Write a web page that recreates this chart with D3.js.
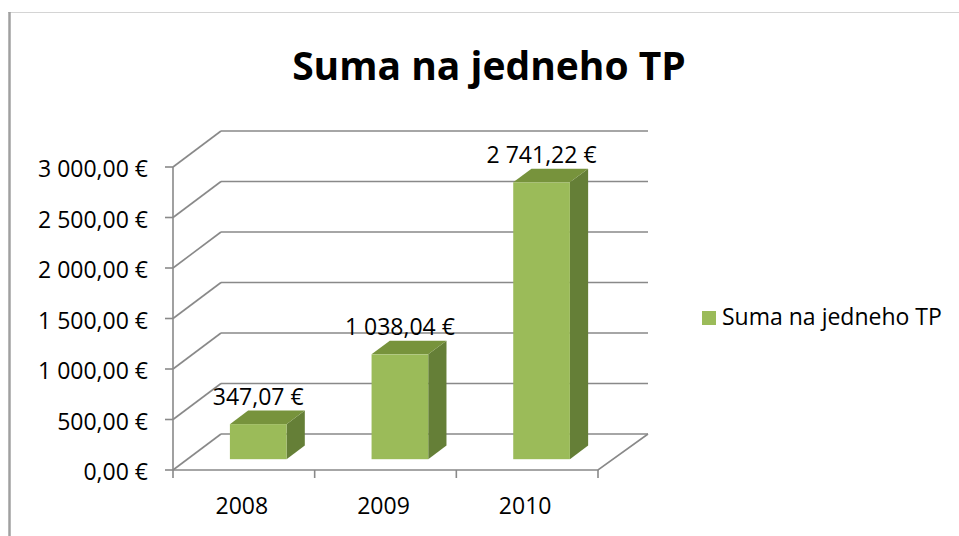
<!DOCTYPE html>
<html>
<head>
	<meta charset="UTF-8" />
	<title>Suma na jedneho TP</title>
	<script src="https://d3js.org/d3.v7.min.js"></script>
	<style>
		body { margin: 0; background: #fff; }
		text { font-family: "Open Sans", sans-serif; fill: #000; }
	</style>
</head>
<body>
	<svg id="chart" width="959" height="536"></svg>

	<script type="text/javascript">

	// data
	var years = ["2008", "2009", "2010"]
	var sums = [347.07, 1038.04, 2741.22]
	var yTicks = [0, 500, 1000, 1500, 2000, 2500, 3000]
	var seriesName = "Suma na jedneho TP"
	var chartTitle = "Suma na jedneho TP"

	// formatting like "1 038,04 €"
	var fmt = d3.formatLocale({decimal: ",", thousands: " ", grouping: [3], currency: ["", " €"]}).format("$,.2f")

	var svg = d3.select("#chart")

	// outer frame (only top + left visible)
	svg.append("line").attr("x1", 8).attr("x2", 959).attr("y1", 12.5).attr("y2", 12.5)
		.attr("stroke", "#d4d4d4").attr("stroke-width", 1)
	svg.append("line").attr("x1", 9.5).attr("x2", 9.5).attr("y1", 12).attr("y2", 536)
		.attr("stroke", "#a0a0a0").attr("stroke-width", 2.5)

	// front plane
	var x0 = 173, x1 = 598
	var yScale = d3.scaleLinear().domain([0, 3000]).range([470, 167])
	var xScale = d3.scaleBand().domain(years).range([x0, x1]).paddingInner(0.6).paddingOuter(0.3)
	var catScale = d3.scaleBand().domain(years).range([x0, x1])

	// wall depth
	var dX = 48, dY = -36
	// bar sits from 0.3 to 0.68 of the depth
	var fFront = 0.3, fBack = 0.68

	var gridColor = "#898989"

	// back wall gridlines
	svg.append("g").selectAll("line")
		.data(yTicks)
		.enter()
		.append("line")
		.attr("x1", x0 + dX).attr("x2", 648)
		.attr("y1", d => yScale(d) + dY).attr("y2", d => yScale(d) + dY)
		.attr("stroke", gridColor).attr("stroke-width", 1.6)

	// side wall diagonals
	svg.append("g").selectAll("line")
		.data(yTicks)
		.enter()
		.append("line")
		.attr("x1", x0).attr("x2", x0 + dX)
		.attr("y1", d => yScale(d)).attr("y2", d => yScale(d) + dY)
		.attr("stroke", gridColor).attr("stroke-width", 1.6)

	// floor front + right edge
	svg.append("path")
		.attr("d", "M" + x0 + "," + yScale(0) + "L" + x1 + "," + yScale(0) + "L" + (x1 + 50) + "," + (yScale(0) + dY))
		.attr("fill", "none").attr("stroke", gridColor).attr("stroke-width", 1.6)

	// vertical axis
	svg.append("line").attr("x1", x0).attr("x2", x0)
		.attr("y1", yScale(3000)).attr("y2", yScale(0))
		.attr("stroke", gridColor).attr("stroke-width", 1.6)

	svg.append("g").selectAll("line")
		.data(yTicks)
		.enter()
		.append("line")
		.attr("x1", x0 - 8).attr("x2", x0)
		.attr("y1", d => yScale(d)).attr("y2", d => yScale(d))
		.attr("stroke", gridColor).attr("stroke-width", 1.6)

	svg.append("g").selectAll("text")
		.data(yTicks)
		.enter()
		.append("text")
		.attr("x", 148)
		.attr("y", d => yScale(d) + 10)
		.attr("text-anchor", "end")
		.style("font-size", "23px")
		.text(d => fmt(d))

	// category ticks
	var catEdges = years.map(d => catScale(d)).concat([x1])
	svg.append("g").selectAll("line")
		.data(catEdges)
		.enter()
		.append("line")
		.attr("x1", d => d).attr("x2", d => d)
		.attr("y1", yScale(0)).attr("y2", yScale(0) + 8)
		.attr("stroke", gridColor).attr("stroke-width", 1.6)

	svg.append("g").selectAll("text")
		.data(years)
		.enter()
		.append("text")
		.attr("x", d => catScale(d) + catScale.bandwidth() / 2 - 2)
		.attr("y", 514)
		.attr("text-anchor", "middle")
		.style("font-size", "23px")
		.text(d => d)

	// 3d bars
	var bdx = (fBack - fFront) * dX, bdy = (fBack - fFront) * dY
	var bars = svg.append("g").selectAll("g")
		.data(years.map((y, i) => ({year: y, v: sums[i]})))
		.enter()
		.append("g")
		.attr("transform", "translate(" + (fFront * dX) + "," + (fFront * dY) + ")")

	bars.append("path") // side
		.attr("d", d => {
			var xr = xScale(d.year) + xScale.bandwidth(), yt = yScale(d.v), yb = yScale(0)
			return "M" + xr + "," + yb + "L" + xr + "," + yt + "L" + (xr + bdx) + "," + (yt + bdy) + "L" + (xr + bdx) + "," + (yb + bdy) + "Z"
		})
		.attr("fill", "#657f37")
	bars.append("path") // top
		.attr("d", d => {
			var xl = xScale(d.year), xr = xl + xScale.bandwidth(), yt = yScale(d.v)
			return "M" + xl + "," + yt + "L" + xr + "," + yt + "L" + (xr + bdx) + "," + (yt + bdy) + "L" + (xl + bdx) + "," + (yt + bdy) + "Z"
		})
		.attr("fill", "#77933c")
	bars.append("rect") // front
		.attr("x", d => xScale(d.year))
		.attr("y", d => yScale(d.v))
		.attr("width", xScale.bandwidth())
		.attr("height", d => yScale(0) - yScale(d.v))
		.attr("fill", "#9bbb59")

	bars.append("text")
		.attr("x", d => xScale(d.year) + xScale.bandwidth() / 2)
		.attr("y", d => yScale(d.v) - 19)
		.attr("text-anchor", "middle")
		.style("font-size", "23px")
		.text(d => fmt(d.v))

	// title
	svg.append("text")
		.attr("x", 489)
		.attr("y", 80)
		.attr("text-anchor", "middle")
		.style("font-size", "39px")
		.style("font-weight", "bold")
		.text(chartTitle)

	// legend
	var legend = svg.append("g").attr("transform", "translate(702,311)")
	legend.append("rect").attr("width", 14).attr("height", 14).attr("fill", "#9bbb59")
	legend.append("text").attr("x", 20).attr("y", 14).style("font-size", "23px").text(seriesName)

	</script>
</body>
</html>
